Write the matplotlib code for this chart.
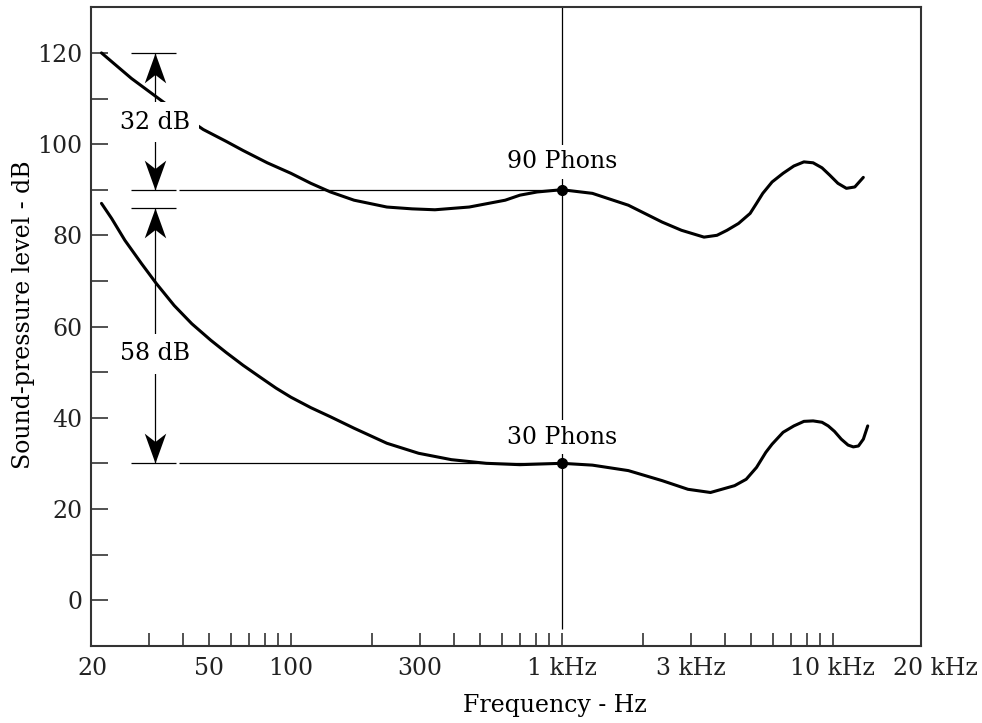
import matplotlib
matplotlib.use('Agg')
import matplotlib.pyplot as plt
from matplotlib.path import Path
from matplotlib.transforms import ScaledTranslation

plt.rcParams['font.family'] = ['DejaVu Serif']
plt.rcParams['font.size'] = 17

### equal-loudness contours (Hz, dB SPL)
freq_90 = [20, 21.8, 25.8, 34.6, 47.5, 57.7, 66.6, 81.8, 100, 118.5, 140, 171, 226, 280, 340,
           455, 618, 700, 810, 1000, 1296, 1759, 2344, 2763, 3346, 3736, 4068, 4487, 4951,
           5228, 5513, 5968, 6552, 7180, 7820, 8456, 9120, 9736, 10440, 11220, 12050, 12955]
spl_90 = [120, 118.1, 114.4, 108.8, 103.2, 100.6, 98.6, 95.9, 93.6, 91.4, 89.5, 87.7, 86.2, 85.8, 85.6,
          86.2, 87.7, 88.8, 89.5, 90, 89.2, 86.6, 82.9, 81.1, 79.6, 80.0, 81.1, 82.6, 84.8,
          87.0, 89.2, 91.7, 93.6, 95.2, 96.1, 95.9, 94.8, 93.2, 91.4, 90.3, 90.6, 92.7]

freq_30 = [20, 21.8, 24.4, 28.1, 31.9, 37.1, 43.1, 50.6, 57.7, 66.6, 77.4, 88.1, 100, 118.5,
           140, 171, 226, 296, 391, 526, 700, 1000, 1296, 1759, 2344, 2920, 3535, 4340, 4789,
           5228, 5657, 5968, 6552, 7180, 7820, 8456, 9120, 9614, 10140, 10740, 11380, 11900,
           12430, 12960, 13450]
spl_30 = [87.0, 83.7, 78.9, 73.8, 69.4, 64.6, 60.6, 57.0, 54.3, 51.5, 48.8, 46.5, 44.5, 42.2,
          40.2, 37.7, 34.4, 32.2, 30.8, 30.0, 29.7, 30.0, 29.6, 28.4, 26.2, 24.3, 23.6, 25.1, 26.5,
          29.1, 32.4, 34.2, 36.8, 38.2, 39.2, 39.3, 39.0, 38.2, 37.0, 35.3, 34.0, 33.6,
          33.8, 35.3, 38.2]

### axis ticks
x_major = [20, 50, 100, 300, 1000, 3000, 10000, 20000]
x_major_labels = ['20', '50', '100', '300', '1 kHz', '3 kHz', '10 kHz', '20 kHz']
x_minor = [30, 40, 60, 70, 80, 90, 200, 400, 500, 600, 700, 800, 900,
           2000, 4000, 5000, 6000, 7000, 8000, 9000]
y_major = [0, 20, 40, 60, 80, 100, 120]
y_minor = [10, 30, 50, 70, 90, 110]

### annotations
ref_freq = 1000
phon_levels = [90, 30]
phon_labels = ['90 Phons', '30 Phons']
phon_label_y = [96.1, 35.7]
bar_levels = [120, 90, 86, 30]
bar_f = (25.7, 37.6)
line_start_f = 38.7
arrow_f = 31.6
span_top = [120, 86]
span_bottom = [90, 30]
span_labels = ['32 dB', '58 dB']
span_label_y = [104.8, 54.0]

fig = plt.figure(figsize=(9.82, 7.23), dpi=100)
ax = fig.add_axes([0.0927, 0.1069, 0.8449, 0.8830])
ax.set_xscale('log')
ax.set_xlim(18.3, 21100)
ax.set_ylim(-10, 130)

### curves
ax.plot(freq_90, spl_90, color='black', lw=2.2, solid_capstyle='round', solid_joinstyle='round', zorder=3)
ax.plot(freq_30, spl_30, color='black', lw=2.2, solid_capstyle='round', solid_joinstyle='round', zorder=3)

### reference lines at 1 kHz
ax.hlines(phon_levels, line_start_f, ref_freq, color='black', lw=0.9, zorder=2)
ax.vlines(ref_freq, -6.4, 130, color='black', lw=0.9, zorder=2)
ax.plot([ref_freq] * len(phon_levels), phon_levels, 'o', color='black', ms=7, zorder=4)
for lev, lab, ty in zip(phon_levels, phon_labels, phon_label_y):
    ax.text(ref_freq, ty, lab, ha='center', va='center', zorder=5,
            bbox=dict(facecolor='white', edgecolor='none', pad=4))

### dimension arrows
ax.hlines(bar_levels, bar_f[0], bar_f[1], color='black', lw=0.9, zorder=2)
up_head = Path([(0, 0), (-0.36, -1), (0, -0.72), (0.36, -1), (0, 0)],
               [Path.MOVETO, Path.LINETO, Path.LINETO, Path.LINETO, Path.CLOSEPOLY])
down_head = Path([(0, 0), (-0.36, 1), (0, 0.72), (0.36, 1), (0, 0)],
                 [Path.MOVETO, Path.LINETO, Path.LINETO, Path.LINETO, Path.CLOSEPOLY])
for top, bot, lab, ty in zip(span_top, span_bottom, span_labels, span_label_y):
    ax.vlines(arrow_f, bot, top, color='black', lw=0.9, zorder=2)
    ax.plot([arrow_f], [top], marker=up_head, ms=43, ls='none', color='black', mew=0, zorder=4)
    ax.plot([arrow_f], [bot], marker=down_head, ms=43, ls='none', color='black', mew=0, zorder=4)
    ax.text(arrow_f, ty, lab, ha='center', va='center', zorder=5,
            bbox=dict(facecolor='white', edgecolor='none', pad=6))

### axes styling
for sp in ax.spines.values():
    sp.set_linewidth(1.5)
    sp.set_color('#333333')
ax.set_xticks(x_major)
ax.set_xticklabels(x_major_labels)
ax.set_xticks(x_minor, minor=True)
ax.set_xticklabels([], minor=True)
ax.set_yticks(y_major)
ax.set_yticks(y_minor, minor=True)
ax.tick_params(axis='x', which='both', direction='in', length=9.4, width=1.1, pad=8, colors='#222222')
ax.tick_params(axis='y', which='both', direction='in', length=12, width=1.1, pad=6, colors='#222222')
ticks = ax.xaxis.get_major_ticks()
ticks[0].tick1line.set_visible(False)
ticks[-1].tick1line.set_visible(False)
# end labels sit at the frame corners in the original
lab0 = ticks[0].label1
lab0.set_transform(lab0.get_transform() + ScaledTranslation(-0.09, 0, fig.dpi_scale_trans))
lab1 = ticks[-1].label1
lab1.set_transform(lab1.get_transform() + ScaledTranslation(0.21, 0, fig.dpi_scale_trans))

ax.set_xlabel('Frequency - Hz')
ax.xaxis.label.set_va('center')
ax.xaxis.set_label_coords(0.559, -0.093)
ax.set_ylabel('Sound-pressure level - dB')
ax.yaxis.label.set_va('center')
ax.yaxis.set_label_coords(-0.0808, 0.518)

fig.savefig('out.png', dpi=100)
